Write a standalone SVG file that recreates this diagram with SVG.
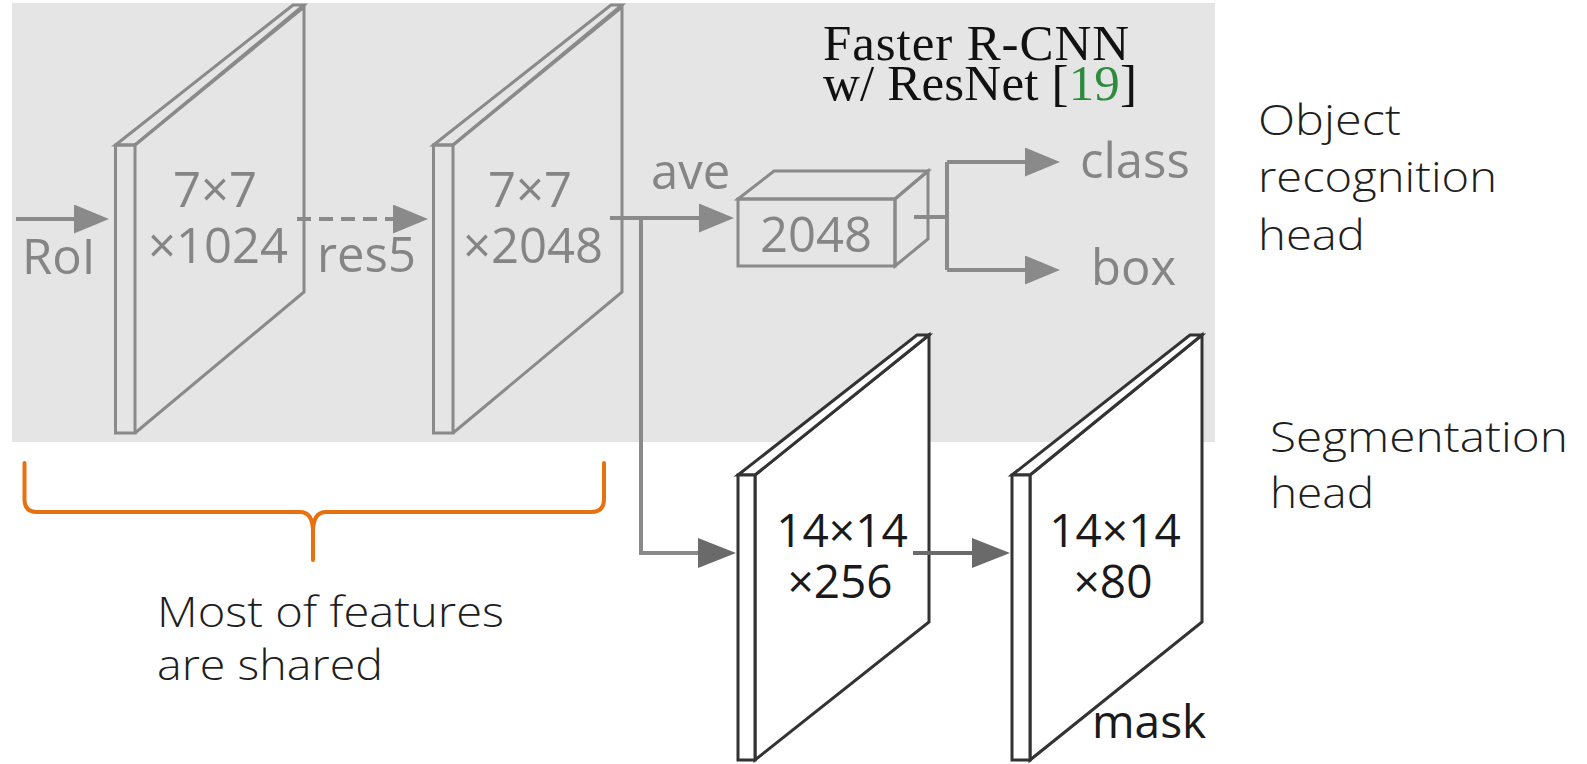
<svg xmlns="http://www.w3.org/2000/svg" width="1587" height="764" viewBox="0 0 1587 764">
  <style>
    .bg { fill: #e5e5e5; }
    .slab { fill: none; stroke: #8a8a8a; stroke-width: 3; stroke-linejoin: miter; }
    .slabW { fill: #ffffff; stroke: #333333; stroke-width: 3; stroke-linejoin: miter; }
    .lbl { font-family: "Open Sans", "Noto Sans", sans-serif; fill: #858585; font-size: 49px; }
    .lblD { font-family: "Open Sans", "Noto Sans", sans-serif; fill: #1a1a1a; font-size: 46px; }
    .ser { font-family: "Liberation Serif", serif; fill: #111111; font-size: 51px; }
    .note { font-family: "Open Sans", "Lato", sans-serif; font-weight: 300; fill: #1e1e1e; font-size: 43px; }
    .conn { fill: none; stroke: #8a8a8a; stroke-width: 4; }
    .connD { fill: none; stroke: #6a6a6a; stroke-width: 4; }
    .mid { text-anchor: middle; }
  </style>
  <defs>
    <marker id="ahG" markerUnits="userSpaceOnUse" markerWidth="38" markerHeight="32" refX="15" refY="14.5" orient="auto">
      <path d="M0,0 L35,14.5 L0,29 Z" fill="#8a8a8a"/>
    </marker>
    <marker id="ahD" markerUnits="userSpaceOnUse" markerWidth="40" markerHeight="32" refX="16" refY="15" orient="auto">
      <path d="M0,0 L38,15 L0,30 Z" fill="#6a6a6a"/>
    </marker>
  </defs>

  <!-- shaded Faster R-CNN region -->
  <rect class="bg" x="12" y="3" width="1203" height="439"/>

  <!-- backbone feature map 7x7x1024 -->
  <g id="fm1024">
    <path class="slab" d="M115.5,145 L293,5 L304,5 L135,145 Z"/>
    <rect class="slab" x="115.5" y="145" width="19.5" height="288"/>
    <path class="slab" d="M135,145 L304,7 L304,292 L135,433"/>
    <text class="lbl mid" x="215" y="207">7×7</text>
    <text class="lbl mid" x="218" y="263">×1024</text>
  </g>

  <!-- res5 feature map 7x7x2048 -->
  <g id="fm2048">
    <path class="slab" d="M433.5,145 L611,5 L622,5 L453,145 Z"/>
    <rect class="slab" x="433.5" y="145" width="19.5" height="288"/>
    <path class="slab" d="M453,145 L622,7 L622,292 L453,433"/>
    <text class="lbl mid" x="530" y="207">7×7</text>
    <text class="lbl mid" x="533" y="263">×2048</text>
  </g>

  <!-- pooled vector -->
  <g id="vec2048">
    <path class="slab" d="M738,199 L774,171 L928,171 L895,199 Z"/>
    <path class="slab" d="M895,199 L928,171 L928,239 L895,266 Z"/>
    <rect class="slab" x="738" y="199" width="157" height="67"/>
    <text class="lbl mid" x="816" y="252">2048</text>
  </g>

  <!-- mask branch feature maps -->
  <g id="fm256">
    <path class="slabW" d="M755,475 L929,335 L929,622 L755,760 Z"/>
    <path class="slabW" d="M738,475 L917,335 L929,335 L755,475 Z"/>
    <rect class="slabW" x="738" y="475" width="17" height="285"/>
    <text class="lblD mid" x="842" y="547">14×14</text>
    <text class="lblD mid" x="840" y="598">×256</text>
  </g>
  <g id="fm80">
    <path class="slabW" d="M1030,475 L1202,335 L1202,622 L1030,760 Z"/>
    <path class="slabW" d="M1012,475 L1190,335 L1202,335 L1030,475 Z"/>
    <rect class="slabW" x="1012" y="475" width="18" height="285"/>
    <text class="lblD mid" x="1115" y="547">14×14</text>
    <text class="lblD mid" x="1113" y="598">×80</text>
    <text class="lblD" x="1092" y="738" font-size="47">mask</text>
  </g>

  <!-- connectors -->
  <g id="connectors">
    <path class="conn" d="M16,219 H89" marker-end="url(#ahG)"/>
    <path class="conn" d="M297,219 H408" stroke-dasharray="14 8" marker-end="url(#ahG)"/>
    <path class="conn" d="M610,218 H714" marker-end="url(#ahG)"/>
    <path class="conn" d="M641,218 V553 H714" stroke="#777777" marker-end="url(#ahD)"/>
    <path class="conn" d="M914,217 H947"/>
    <path class="conn" d="M947,162 V270"/>
    <path class="conn" d="M947,162 H1040" marker-end="url(#ahG)"/>
    <path class="conn" d="M947,270 H1040" marker-end="url(#ahG)"/>
    <path class="connD" d="M913,553 H988" marker-end="url(#ahD)"/>
  </g>

  <!-- edge labels -->
  <g id="labels">
    <text class="lbl" x="22" y="274">RoI</text>
    <text class="lbl" x="317" y="272">res5</text>
    <text class="lbl" x="651" y="189">ave</text>
    <text class="lbl" x="1080" y="178">class</text>
    <text class="lbl" x="1091" y="285">box</text>
  </g>

  <!-- title -->
  <g id="title">
    <text class="ser" x="823" y="60" textLength="306">Faster R-CNN</text>
    <text class="ser" x="823" y="100" textLength="314">w/ ResNet [<tspan fill="#2e8b3e">19</tspan>]</text>
  </g>

  <!-- shared-feature brace -->
  <g id="brace">
    <path d="M24.5,463 V499 Q24.5,512 37,512 H300 Q313,512 313,532 V560 M313,532 Q313,512 326,512 H591 Q604,512 604,499 V463" fill="none" stroke="#e8710f" stroke-width="4" stroke-linecap="round" stroke-linejoin="round"/>
    <text class="note" x="157" y="627" textLength="347" lengthAdjust="spacingAndGlyphs">Most of features</text>
    <text class="note" x="157" y="680" textLength="226" lengthAdjust="spacingAndGlyphs">are shared</text>
  </g>

  <!-- head annotations -->
  <g id="heads">
    <text class="note" x="1258" y="135" textLength="143" lengthAdjust="spacingAndGlyphs">Object</text>
    <text class="note" x="1258" y="192" textLength="239" lengthAdjust="spacingAndGlyphs">recognition</text>
    <text class="note" x="1258" y="250" textLength="107" lengthAdjust="spacingAndGlyphs">head</text>
    <text class="note" x="1270" y="452" textLength="298" lengthAdjust="spacingAndGlyphs">Segmentation</text>
    <text class="note" x="1270" y="508" textLength="104" lengthAdjust="spacingAndGlyphs">head</text>
  </g>
</svg>
